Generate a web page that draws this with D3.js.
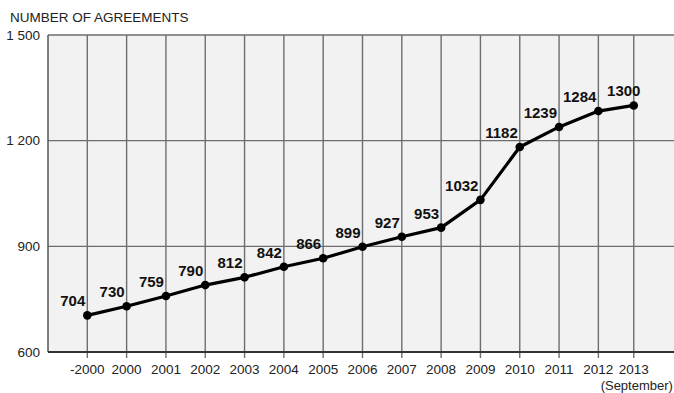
<!DOCTYPE html>
<html>
<head>
<meta charset="utf-8">
<script src="https://cdn.jsdelivr.net/npm/d3@7"></script>
<style>
  body { margin: 0; background: #fff; }
  svg { display: block; font-family: Arial, "Liberation Sans", sans-serif; }
</style>
</head>
<body>
<svg id="chart" width="674" height="393"></svg>
<script>
// data
var years = ["-2000", "2000", "2001", "2002", "2003", "2004", "2005", "2006", "2007",
    "2008", "2009", "2010", "2011", "2012", "2013"];
var agreements = [704, 730, 759, 790, 812, 842, 866, 899, 927, 953, 1032, 1182, 1239, 1284, 1300];
// horizontal slot of each year (last one is a partial year, September)
var slots = [0, 1, 2, 3, 4, 5, 6, 7, 8, 9, 10, 11, 12, 13, 13.9];
var yTicks = [600, 900, 1200, 1500];
var yTickLabels = ["600", "900", "1 200", "1 500"];

var svg = d3.select("#chart");
var width = 674, height = 393;
var margin = { top: 35, right: 0, bottom: 41, left: 48 };

var x = d3.scaleLinear().domain([-1, 15]).range([margin.left, 677]);
var y = d3.scaleLinear().domain([600, 1500]).range([height - margin.bottom, margin.top]);

var data = years.map(function (d, i) { return { year: d, value: agreements[i], slot: slots[i] }; });

// plot background
svg.append("rect")
    .attr("x", margin.left)
    .attr("y", margin.top)
    .attr("width", width - margin.left)
    .attr("height", y(600) - margin.top)
    .attr("fill", "#f2f2f2");

// horizontal grid
svg.append("g").selectAll("line")
    .data(yTicks.slice(1))
    .enter()
    .append("line")
    .attr("x1", margin.left)
    .attr("x2", width)
    .attr("y1", function (d) { return y(d); })
    .attr("y2", function (d) { return y(d); })
    .attr("stroke", "#6e6e6e")
    .attr("stroke-width", 1.4);

// vertical grid (runs a bit under the axis, like ticks)
svg.append("g").selectAll("line")
    .data(data)
    .enter()
    .append("line")
    .attr("x1", function (d) { return x(d.slot); })
    .attr("x2", function (d) { return x(d.slot); })
    .attr("y1", margin.top)
    .attr("y2", y(600) + 6)
    .attr("stroke", "#6e6e6e")
    .attr("stroke-width", 1.4);

// axes lines
svg.append("line")
    .attr("x1", margin.left).attr("x2", margin.left)
    .attr("y1", margin.top).attr("y2", y(600))
    .attr("stroke", "#555").attr("stroke-width", 1.5);
svg.append("line")
    .attr("x1", margin.left).attr("x2", width)
    .attr("y1", y(600)).attr("y2", y(600))
    .attr("stroke", "#333").attr("stroke-width", 1.8);

// y tick labels
svg.append("g").selectAll("text")
    .data(yTicks)
    .enter()
    .append("text")
    .attr("x", margin.left - 8)
    .attr("y", function (d) { return y(d); })
    .attr("dy", "0.35em")
    .attr("text-anchor", "end")
    .attr("font-size", "13.5px")
    .attr("fill", "#222")
    .text(function (d, i) { return yTickLabels[i]; });

// x tick labels
svg.append("g").selectAll("text")
    .data(data)
    .enter()
    .append("text")
    .attr("x", function (d) { return x(d.slot); })
    .attr("y", 374)
    .attr("text-anchor", "middle")
    .attr("font-size", "13.5px")
    .attr("fill", "#222")
    .text(function (d) { return d.year; });

svg.append("text")
    .attr("x", x(slots[slots.length - 1]) + 3)
    .attr("y", 390)
    .attr("text-anchor", "middle")
    .attr("font-size", "13px")
    .attr("fill", "#222")
    .text("(September)");

// title
svg.append("text")
    .attr("x", 10)
    .attr("y", 22)
    .attr("font-size", "13.5px")
    .attr("fill", "#222")
    .text("NUMBER OF AGREEMENTS");

// line + points
var line = d3.line()
    .x(function (d) { return x(d.slot); })
    .y(function (d) { return y(d.value); });

svg.append("path")
    .datum(data)
    .attr("d", line)
    .attr("fill", "none")
    .attr("stroke", "#000")
    .attr("stroke-width", 3.2)
    .attr("stroke-linejoin", "round");

svg.append("g").selectAll("circle")
    .data(data)
    .enter()
    .append("circle")
    .attr("cx", function (d) { return x(d.slot); })
    .attr("cy", function (d) { return y(d.value); })
    .attr("r", 4.3)
    .attr("fill", "#000");

// value labels
var last = data.length - 1;
svg.append("g").selectAll("text")
    .data(data)
    .enter()
    .append("text")
    .attr("x", function (d, i) { return i === last ? x(d.slot) - 10 : x(d.slot) - 2; })
    .attr("y", function (d) { return y(d.value) - 9; })
    .attr("text-anchor", function (d, i) { return i === last ? "middle" : "end"; })
    .attr("font-size", "15px")
    .attr("font-weight", "bold")
    .attr("fill", "#111")
    .text(function (d) { return d.value; });
</script>
</body>
</html>
